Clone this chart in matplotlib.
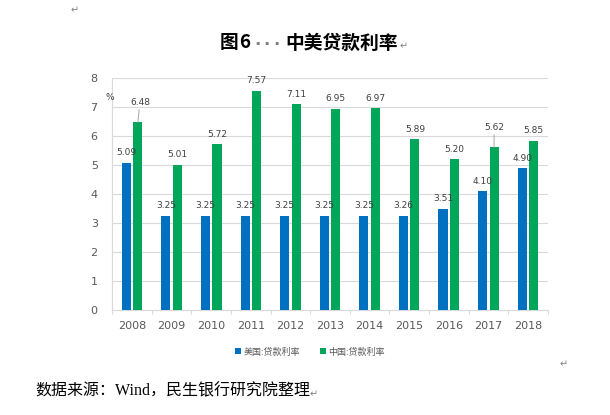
import matplotlib
matplotlib.use("Agg")
import matplotlib.pyplot as plt
import numpy as np
from matplotlib.patches import Patch

years = ["2008", "2009", "2010", "2011", "2012", "2013", "2014", "2015", "2016", "2017", "2018"]
us_rate = [5.09, 3.25, 3.25, 3.25, 3.25, 3.25, 3.25, 3.26, 3.51, 4.10, 4.90]
cn_rate = [6.48, 5.01, 5.72, 7.57, 7.11, 6.95, 6.97, 5.89, 5.20, 5.62, 5.85]
series_names = ["美国:贷款利率", "中国:贷款利率"]
leader_idx = [0, 9]  # green labels drawn with leader lines

W, H = 610, 415
BLUE = "#0070C0"
GREEN = "#00A65A"
GRAY_TXT = "#595959"
GRID = "#D9D9D9"
CJK = ["Noto Sans CJK SC", "DejaVu Sans"]

fig = plt.figure(figsize=(W / 100, H / 100), dpi=100)
ax = fig.add_axes([112.3 / W, 1 - 310.3 / H, (547.7 - 112.3) / W, (310.3 - 78.3) / H])

x = np.arange(len(years))
bw = 0.23
off = 0.145
ax.bar(x - off, us_rate, bw, color=BLUE, zorder=3)
ax.bar(x + off, cn_rate, bw, color=GREEN, zorder=3)

ax.set_xlim(-0.5, len(years) - 0.5)
ax.set_ylim(0, 8)
ax.set_yticks(range(0, 9))
ax.set_xticks(x)
ax.set_xticklabels(years)
ax.set_xticks(np.arange(-0.5, len(years), 1.0), minor=True)
ax.tick_params(axis="x", which="major", length=0, pad=7.5, labelsize=8, labelcolor=GRAY_TXT)
ax.tick_params(axis="x", which="minor", length=3, width=0.8, color=GRID)
ax.tick_params(axis="y", length=0, pad=10.5, labelsize=8, labelcolor=GRAY_TXT)
ax.grid(axis="y", color=GRID, linewidth=0.8, zorder=0)
for s in ["top", "right"]:
    ax.spines[s].set_visible(False)
for s in ["left", "bottom"]:
    ax.spines[s].set_color(GRID)
    ax.spines[s].set_linewidth(0.8)

# data labels
for i, v in enumerate(us_rate):
    ax.annotate(f"{v:.2f}", (x[i] - off, v), xytext=(0, 4), textcoords="offset points",
                ha="center", va="bottom", fontsize=6.5, color="#404040", zorder=4)
for i, v in enumerate(cn_rate):
    if i in leader_idx:
        ax.annotate(f"{v:.2f}", (x[i] + off, v), xytext=(1.5 if i == 0 else 0, 11),
                    textcoords="offset points", ha="center", va="bottom", fontsize=6.5,
                    color="#404040", zorder=4,
                    arrowprops=dict(arrowstyle="-", color="#A6A6A6", lw=0.7,
                                    shrinkA=0, shrinkB=0))
    else:
        ax.annotate(f"{v:.2f}", (x[i] + off, v), xytext=(0, 4), textcoords="offset points",
                    ha="center", va="bottom", fontsize=6.5, color="#404040", zorder=4)

def ft(px, py, s, **kw):
    fig.text(px / W, 1 - py / H, s, **kw)

# % unit
ft(110, 97, "%", fontsize=6.5, color="#404040", ha="center", va="center")

# legend
handles = [Patch(facecolor=BLUE), Patch(facecolor=GREEN)]
fig.legend(handles, series_names, loc="center", bbox_to_anchor=(310 / W, 1 - 352 / H),
           ncol=2, frameon=False, fontsize=6.5, handlelength=0.65, handleheight=0.65,
           handletextpad=0.3, columnspacing=2.2, labelcolor=GRAY_TXT,
           prop={"family": CJK, "size": 6.5})

# title
ft(220, 43, "图", fontsize=13.5, fontweight="bold", family=CJK, ha="left", va="center")
ft(239, 43, "6", fontsize=13.5, fontweight="bold", family=CJK, ha="left", va="center")
for dx in (257, 266.5, 276):
    ft(dx, 45, "·", fontsize=12, fontweight="bold", color="#808080",
       family=["DejaVu Sans"], ha="center", va="center")
ft(285, 43, "中美贷款利率", fontsize=13.5, fontweight="bold", family=CJK, ha="left", va="center")
ft(400, 46, "↵", fontsize=7, color="#808080", family=["DejaVu Sans"], ha="left", va="center")

# paragraph marks
ft(71, 10, "↵", fontsize=7, color="#808080", family=["DejaVu Sans"], ha="left", va="center")
ft(560, 364, "↵", fontsize=7, color="#808080", family=["DejaVu Sans"], ha="left", va="center")

# source
ft(35, 391, "数据来源：Wind，民生银行研究院整理", fontsize=11.5,
   family=["Liberation Serif", "Noto Sans CJK SC"], ha="left", va="center")
ft(310, 394, "↵", fontsize=7, color="#808080", family=["DejaVu Sans"], ha="left", va="center")

fig.savefig("out.png", dpi=100)
